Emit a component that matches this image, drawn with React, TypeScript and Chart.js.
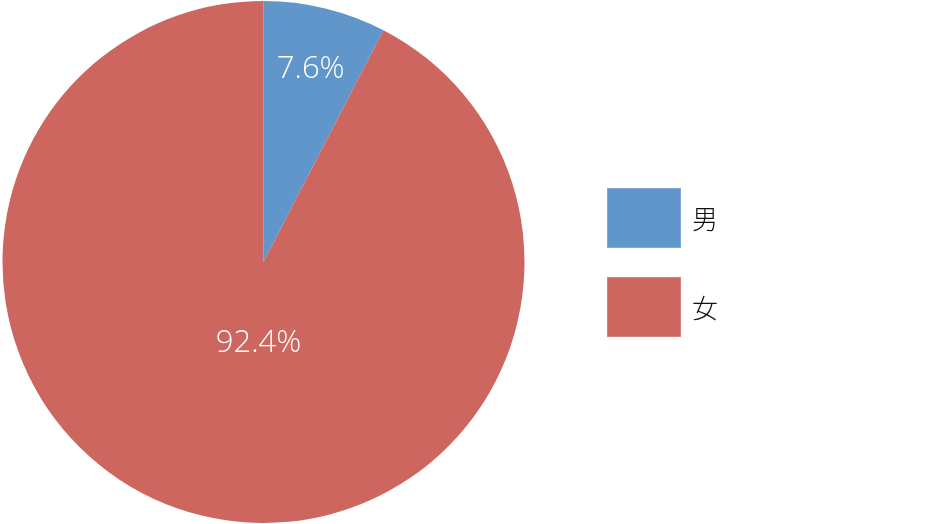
import React, { useEffect, useRef } from "react";
import { Chart, registerables } from "chart.js";

Chart.register(...registerables);

const categories = ["男", "女"];
const values = [7.6, 92.4];
const valueLabels = ["7.6%", "92.4%"];
const colors = ["#6096CA", "#CC665F"];
const borderColors = ["#7FA9D4", "#D6837D"];
const labelRadialFraction = [0.765, 0.315];

const labelPlugin = {
  id: "sliceLabels",
  afterDatasetsDraw(chart: any) {
    const ctx = chart.ctx;
    const meta = chart.getDatasetMeta(0);
    ctx.save();
    ctx.fillStyle = "#FFFFFF";
    ctx.font = "300 31px 'Open Sans', 'Noto Sans', sans-serif";
    ctx.textAlign = "center";
    ctx.textBaseline = "middle";
    meta.data.forEach((arc: any, i: number) => {
      const { x, y, startAngle, endAngle, outerRadius } = arc.getProps(
        ["x", "y", "startAngle", "endAngle", "outerRadius"],
        true
      );
      const mid = (startAngle + endAngle) / 2;
      const r = outerRadius * labelRadialFraction[i];
      let lx = x + Math.cos(mid) * r;
      const ly = y + Math.sin(mid) * r;
      if (i === 1) lx = x - 5;
      ctx.fillText(valueLabels[i], lx, ly + 1);
    });
    ctx.restore();
  },
};

export default function App() {
  const canvasRef = useRef<HTMLCanvasElement | null>(null);

  useEffect(() => {
    document.body.style.margin = "0";
    const chart = new Chart(canvasRef.current as HTMLCanvasElement, {
      type: "pie",
      data: {
        labels: categories,
        datasets: [
          {
            data: values,
            backgroundColor: colors,
            borderWidth: 0,
          },
        ],
      },
      options: {
        animation: false,
        responsive: false,
        maintainAspectRatio: false,
        layout: { padding: { left: 1, right: 414, top: 1, bottom: 1 } },
        plugins: {
          legend: { display: false },
          tooltip: { enabled: false },
        },
      },
      plugins: [labelPlugin],
    });
    return () => chart.destroy();
  }, []);

  return (
    <div style={{ position: "relative", width: 940, height: 524, background: "#fff" }}>
      <canvas ref={canvasRef} width={940} height={524} style={{ display: "block" }} />
      <div style={{ position: "absolute", left: 607, top: 188 }}>
        {categories.map((c, i) => (
          <div
            key={c}
            style={{ display: "flex", alignItems: "center", height: 60, marginBottom: 29 }}
          >
            <div
              style={{
                width: 72,
                height: 58,
                background: colors[i],
                border: `1px solid ${borderColors[i]}`,
              }}
            />
            <span
              style={{
                marginLeft: 11,
                fontFamily: "'Noto Sans CJK JP', sans-serif",
                fontWeight: 300,
                fontSize: 26,
                color: "#111",
                lineHeight: 1,
              }}
            >
              {c}
            </span>
          </div>
        ))}
      </div>
    </div>
  );
}
